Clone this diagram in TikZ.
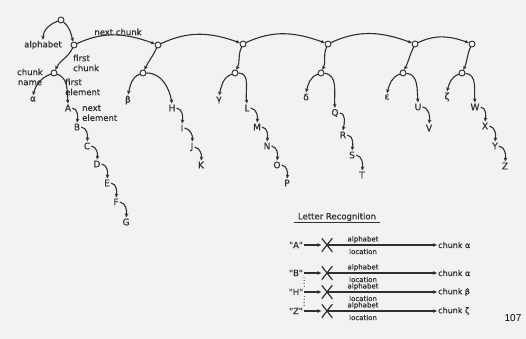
\documentclass[tikz,border=0pt]{standalone}
\usepackage{fontspec}
\setmainfont{DejaVu Sans}
\newfontfamily\inkfont{DejaVu Sans}[FakeBold=0.5]
\newfontfamily\pagefont{Liberation Sans}
\usetikzlibrary{arrows.meta}
\definecolor{bg}{HTML}{F2F1F4}
\definecolor{ink}{HTML}{303030}
\begin{document}
\begin{tikzpicture}[x=1pt,y=1pt,
  font=\inkfont\fontsize{8.5}{10}\selectfont,
  every node/.style={text=ink},
  dot/.style={circle,draw=ink,line width=0.9pt,minimum size=6pt,inner sep=0pt},
  lab/.style={inner sep=1pt},
  let/.style={inner sep=1pt,font=\inkfont\fontsize{9}{10}\selectfont},
  tab/.style={inner sep=0pt,font=\inkfont\fontsize{7}{8}\selectfont},
  txt/.style={inner sep=1pt,align=left},
  arr/.style={draw=ink,line width=1.1pt,-{Stealth[length=4pt,width=3.6pt]}},
  ln/.style={draw=ink,line width=0.9pt},
  xmark/.style={minimum width=11pt,minimum height=14pt,inner sep=0pt,
    path picture={\draw[ink,line width=1.2pt]
      (path picture bounding box.north west) -- (path picture bounding box.south east)
      (path picture bounding box.north east) -- (path picture bounding box.south west);}}
]
\fill[bg] (0,0) rectangle (526,-339);
\useasboundingbox (0,0) rectangle (526,-339);

% root and labels
\node[dot] (root) at (61,-20) {};
\node[lab] (alph) at (43,-45) {alphabet};
\node[lab] (nextchunk) at (118,-32) {next chunk};

% top chunk nodes
\node[dot] (c1) at (74,-45) {};
\node[dot] (c2) at (158,-45) {};
\node[dot] (c3) at (243,-44) {};
\node[dot] (c4) at (328,-44) {};
\node[dot] (c5) at (415,-44) {};
\node[dot] (c6) at (472,-44) {};

% sub nodes
\node[dot] (n1) at (54,-73) {};
\node[dot] (n2) at (143,-73) {};
\node[dot] (n3) at (235,-73) {};
\node[dot] (n4) at (321,-73) {};
\node[dot] (n5) at (403,-73) {};
\node[dot] (n6) at (462,-73) {};

% labels chunk 1
\node[txt,anchor=west] (firstchunk) at (72,-63) {first\\chunk};
\node[lab,align=center] (chunkname) at (30,-77) {chunk\\name};
\node[txt,anchor=west] (firstelem) at (64,-87) {first\\element};
\node[txt,anchor=west] (nextelem) at (81,-113) {next\\element};

% greek names
\node[let] (alpha) at (33,-99) {α};
\node[let] (beta) at (128,-100) {β};
\node[let] (gamma) at (219,-100) {γ};
\node[let] (delta) at (306,-97) {δ};
\node[let] (eps) at (387,-97) {ε};
\node[let] (zeta) at (447,-97) {ζ};

% letters
\foreach \l/\x/\y in {A/68/108,B/77/127,C/87/146,D/97/164,E/107/183,F/116/202,G/126/222,
  H/172/108,I/182/128,J/192/147,K/201/165,
  L/247/108,M/257/127,N/267/146,O/277/165,P/287/183,
  Q/335/113,R/343/135,S/352/155,T/362/175,
  U/418/107,V/429/128,
  W/475/107,X/485/126,Y/495/146,Z/505/166}
  \node[let] (\l) at (\x,-\y) {\l};

% root arrows
\draw[arr] (root) to[out=200,in=90] (alph.north);
\draw[arr] (root) to[out=-40,in=105] (c1);

% next chunk arcs
\draw[arr] (c1) to[out=25,in=160] (c2);
\draw[arr] (c2) to[out=25,in=160] (c3);
\draw[arr] (c3) to[out=25,in=160] (c4);
\draw[arr] (c4) to[out=25,in=160] (c5);
\draw[arr] (c5) to[out=25,in=160] (c6);

% chunk to sub node
\foreach \i in {1,...,6} \draw[arr] (c\i) to[out=245,in=65] (n\i);

% sub node to name
\draw[arr] (n1) to[out=200,in=75] (alpha.north);
\draw[arr] (n2) to[out=200,in=75] (beta.north);
\draw[arr] (n3) to[out=200,in=75] (gamma.north);
\draw[arr] (n4) to[out=200,in=75] (delta.north);
\draw[arr] (n5) to[out=200,in=75] (eps.north);
\draw[arr] (n6) to[out=200,in=75] (zeta.north);

% sub node to first element
\draw[arr] (n1) to[out=-20,in=95] (A.north);
\draw[arr] (n2) to[out=0,in=100] (H.north);
\draw[arr] (n3) to[out=0,in=100] (L.north);
\draw[arr] (n4) to[out=-5,in=95] (Q.north);
\draw[arr] (n5) to[out=-5,in=95] (U.north);
\draw[arr] (n6) to[out=-5,in=95] (W.north);

% next element chains
\foreach \a/\b in {A/B,B/C,C/D,D/E,E/F,F/G,H/I,I/J,J/K,L/M,M/N,N/O,O/P,Q/R,R/S,S/T,U/V,W/X,X/Y,Y/Z}
  \draw[arr] (\a.east) to[out=-10,in=80] (\b.north);

% Letter recognition table
\node[lab,inner xsep=4pt] (title) at (337,-217) {Letter Recognition};
\draw[ln] (title.south west) -- (title.south east);

\foreach \q/\c/\y/\n in {A/α/245/1,B/α/273/2,H/β/292/3,Z/ζ/311/4}{
  \node[lab] (q\n) at (296,-\y) {"\q"};
  \node[xmark] (x\n) at (327,-\y) {};
  \node[lab,anchor=west,font=\inkfont\fontsize{8}{9}\selectfont] (ch\n) at (437,-\y) {chunk \c};
  \node[tab] (al\n) at ([yshift=5.5pt]363,-\y) {alphabet};
  \node[tab] (lo\n) at ([yshift=-6.5pt]363,-\y) {location};
  \draw[arr] (q\n.east) -- (x\n.west);
  \draw[arr] (x\n.center) -- (ch\n.west);
}
\draw[ink,line width=0.9pt,dotted] (q2.south east) -- (q3.north east);
\draw[ink,line width=0.9pt,dotted] (q3.south east) -- (q4.north east);

\node[text=black,font=\pagefont\fontsize{10}{12}\selectfont] (pagenum) at (513,-318) {107};
\end{tikzpicture}
\end{document}
